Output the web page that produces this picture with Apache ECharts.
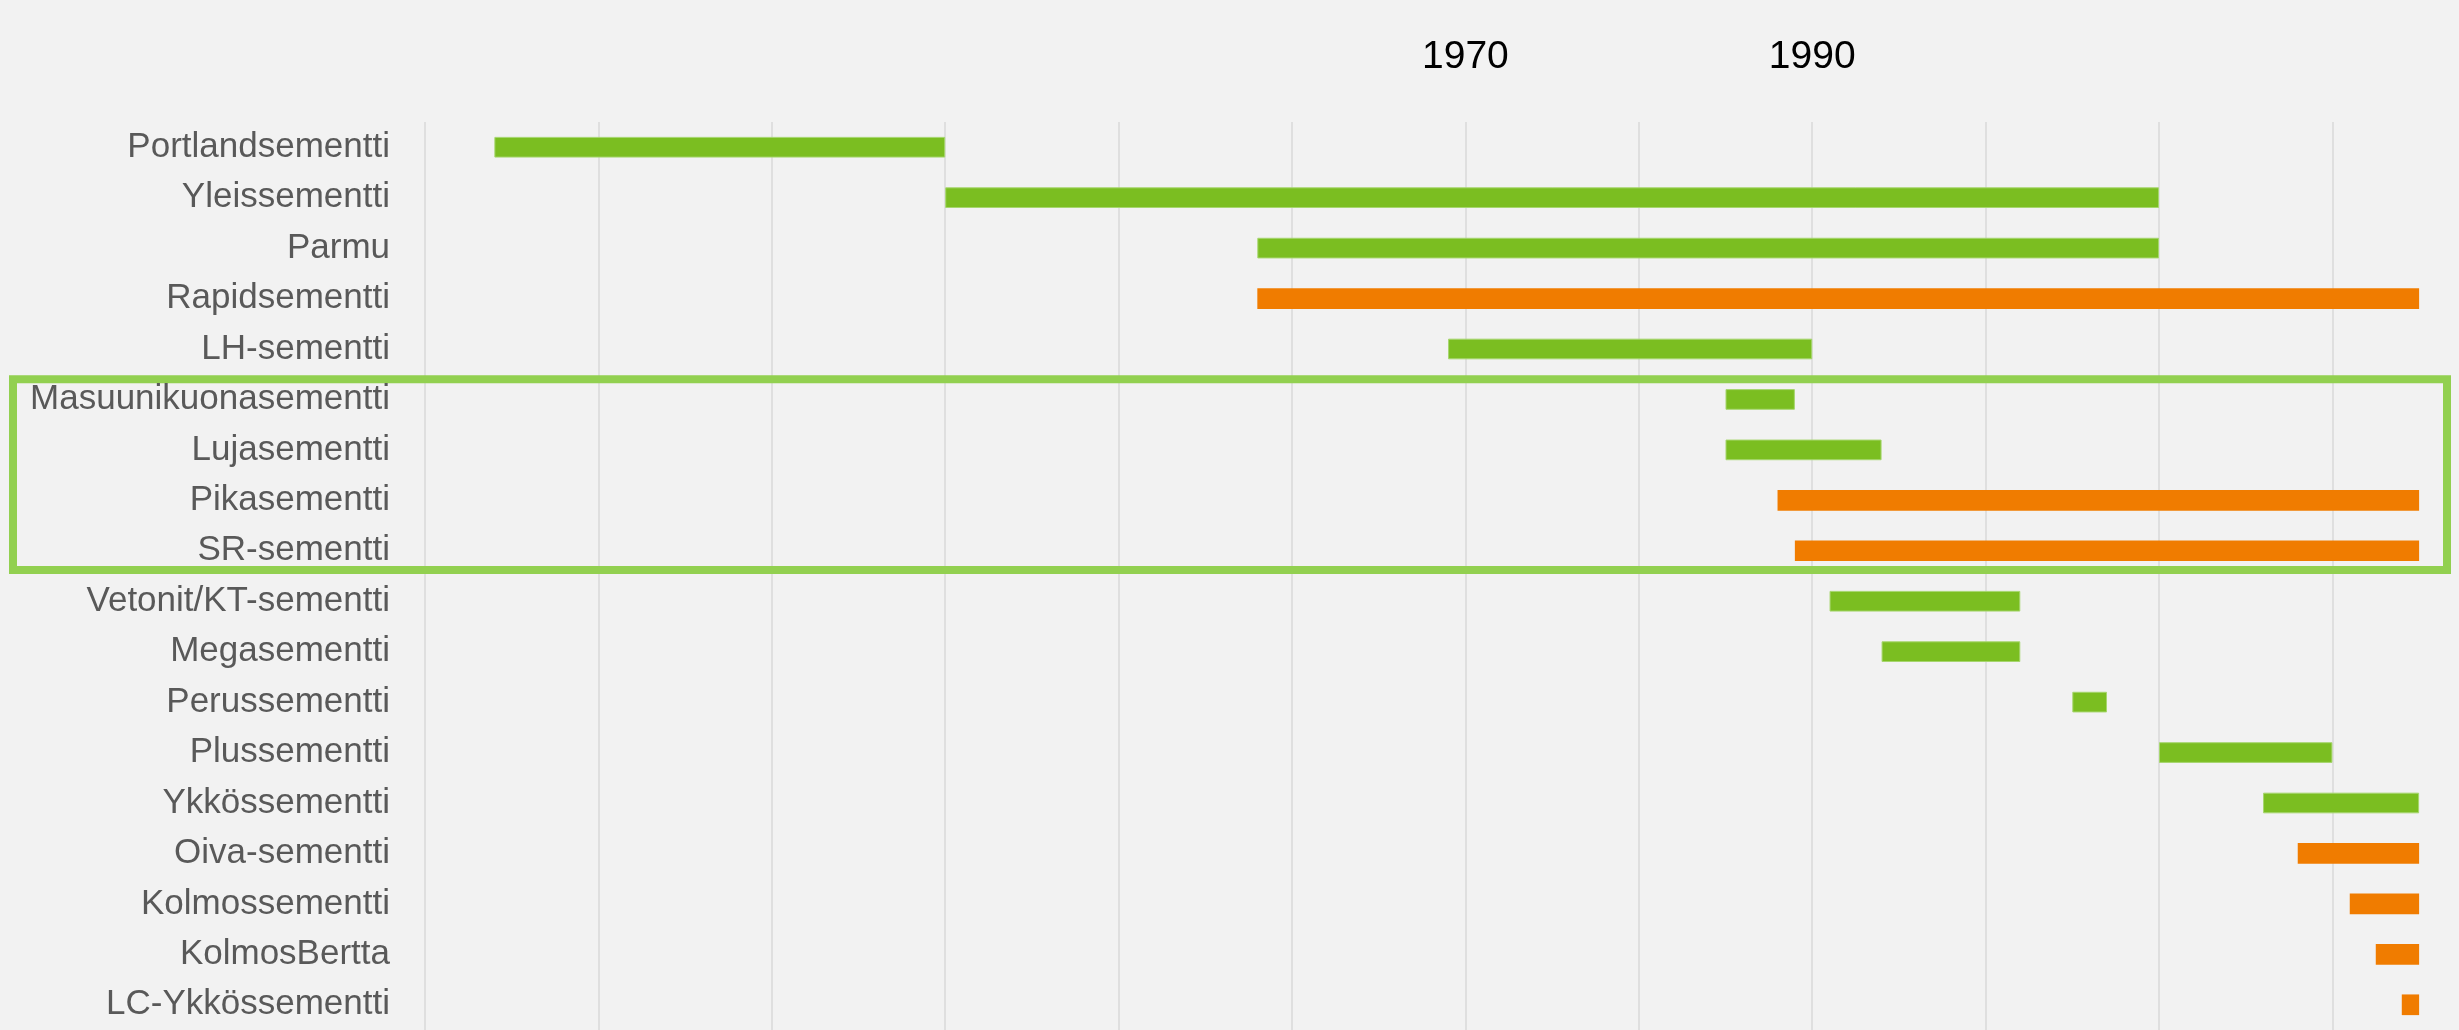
<!DOCTYPE html>
<html>
<head>
<meta charset="utf-8">
<script src="https://cdn.jsdelivr.net/npm/echarts@6/dist/echarts.min.js"></script>
<style>
    html, body { margin: 0; padding: 0; background: #F2F2F2; }
    #chart { width: 2459px; height: 1030px; }
</style>
</head>
<body>
<div id="chart"></div>
<script>
// sementtilaadut ja valmistusvuodet
var names = ['Portlandsementti', 'Yleissementti', 'Parmu', 'Rapidsementti', 'LH-sementti',
    'Masuunikuonasementti', 'Lujasementti', 'Pikasementti', 'SR-sementti', 'Vetonit/KT-sementti',
    'Megasementti', 'Perussementti', 'Plussementti', 'Ykkössementti', 'Oiva-sementti',
    'Kolmossementti', 'KolmosBertta', 'LC-Ykkössementti'];
var startYear = [1914, 1940, 1958, 1958, 1969, 1985, 1985, 1988, 1989, 1991,
    1994, 2005, 2010, 2016, 2018, 2021, 2022.5, 2024];
var endYear = [1940, 2010, 2010, 2025, 1990, 1989, 1994, 2025, 2025, 2002,
    2002, 2007, 2020, 2025, 2025, 2025, 2025, 2025];
// true = yhä valmistuksessa (oranssi)
var current = [false, false, false, true, false, false, false, true, true, false,
    false, false, false, false, true, true, true, true];
var shownYears = [1970, 1990];
var boxFrom = 'Masuunikuonasementti';
var boxTo = 'SR-sementti';

var myChart = echarts.init(document.getElementById('chart'));

var greenData = [];
var orangeData = [];
for (var i = 0; i < names.length; i++) {
    var len = endYear[i] - startYear[i];
    greenData.push(current[i] ? '-' : len);
    orangeData.push(current[i] ? len : '-');
}

var option = {
    backgroundColor: '#F2F2F2',
    animation: false,
    grid: {
        left: 425,
        right: 0,
        top: 122,
        bottom: 0
    },
    xAxis: {
        type: 'value',
        position: 'top',
        min: 1910,
        max: 2027.3,
        interval: 10,
        axisLine: { show: false },
        axisTick: { show: false },
        splitLine: {
            show: true,
            showMaxLine: false,
            lineStyle: { color: '#D9D9D9', width: 1.5 }
        },
        axisLabel: {
            showMaxLabel: false,
            margin: 45,
            color: '#000000',
            fontFamily: 'Liberation Sans',
            fontSize: 39,
            formatter: function (v) {
                return shownYears.indexOf(v) >= 0 ? String(v) : '';
            }
        }
    },
    yAxis: {
        type: 'category',
        inverse: true,
        data: names,
        axisLine: { show: false },
        axisTick: { show: false },
        axisLabel: {
            margin: 35,
            color: '#595959',
            fontFamily: 'Liberation Sans',
            fontSize: 35
        }
    },
    series: [
        {
            name: 'alku',
            type: 'bar',
            stack: 'aika',
            silent: true,
            itemStyle: { color: 'rgba(0,0,0,0)' },
            data: startYear
        },
        {
            name: 'lopetettu',
            type: 'bar',
            stack: 'aika',
            barWidth: '41%',
            itemStyle: { color: '#7BBE21', borderColor: '#A6D66E', borderWidth: 1 },
            data: greenData
        },
        {
            name: 'valmistuksessa',
            type: 'bar',
            stack: 'aika',
            barWidth: '41%',
            itemStyle: { color: '#F07C00' },
            data: orangeData
        }
    ]
};
myChart.setOption(option);

// vihreä kehys korostetuille riveille
var y1 = myChart.convertToPixel({ yAxisIndex: 0 }, boxFrom);
var y2 = myChart.convertToPixel({ yAxisIndex: 0 }, boxTo);
var rowH = myChart.convertToPixel({ yAxisIndex: 0 }, names[1]) - myChart.convertToPixel({ yAxisIndex: 0 }, names[0]);
myChart.setOption({
    graphic: [{
        type: 'rect',
        silent: true,
        shape: {
            x: 13,
            y: y1 - rowH / 2 + 5,
            width: 2434,
            height: (y2 - y1) + rowH - 11
        },
        style: { fill: 'none', stroke: '#92D050', lineWidth: 8 }
    }]
});
</script>
</body>
</html>
